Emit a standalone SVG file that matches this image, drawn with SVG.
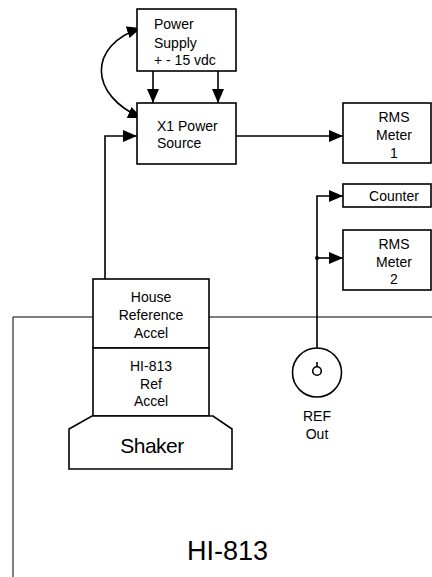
<svg xmlns="http://www.w3.org/2000/svg" width="432" height="577" viewBox="0 0 432 577">
<defs>
<marker id="arr" markerUnits="userSpaceOnUse" markerWidth="14" markerHeight="12" refX="14" refY="6" orient="auto-start-reverse">
<path d="M0,0 L14,6 L0,12 z" fill="#000"/>
</marker>
<style>
.box{fill:#fff;stroke:#000;stroke-width:1.6}
.ln{fill:none;stroke:#000;stroke-width:1.6}
.frame{fill:none;stroke:#000;stroke-width:1}
text{font-family:"Liberation Sans",Arial,sans-serif;font-size:14px;fill:#000}
.c{text-anchor:middle}
</style>
</defs>
<rect width="432" height="577" fill="#fff"/>
<g id="frame">
<path class="frame" d="M13,577 V317 H93 M209,317 H432"/>
<text class="c" x="227.5" y="560" style="font-size:27px">HI-813</text>
</g>
<g id="connectors">
<path class="ln" d="M153,71 V103" marker-end="url(#arr)"/>
<path class="ln" d="M218,71 V103" marker-end="url(#arr)"/>
<path class="ln" d="M141,28 C88,45 88,95 142,118" marker-start="url(#arr)" marker-end="url(#arr)"/>
<path class="ln" d="M105,279 V136 H137" marker-end="url(#arr)"/>
<path class="ln" d="M236,136 H343" marker-end="url(#arr)"/>
<path class="ln" d="M317,348 V196 H343" marker-end="url(#arr)"/>
<path class="ln" d="M317,258 H343" marker-end="url(#arr)"/>
<circle cx="317" cy="258" r="2" fill="#000"/>
</g>
<g id="power-supply">
<rect class="box" x="137" y="9" width="99" height="62"/>
<text x="154" y="29">Power</text>
<text x="154" y="47.5">Supply</text>
<text x="154" y="65">+ - 15 vdc</text>
</g>
<g id="x1-power-source">
<rect class="box" x="137" y="103" width="99" height="61"/>
<text x="157" y="131">X1 Power</text>
<text x="157" y="148">Source</text>
</g>
<g id="rms-meter-1">
<rect class="box" x="343" y="103" width="88" height="60"/>
<text class="c" x="394" y="122">RMS</text>
<text class="c" x="394" y="140">Meter</text>
<text class="c" x="394" y="158">1</text>
</g>
<g id="counter">
<rect class="box" x="343" y="184" width="88" height="23"/>
<text class="c" x="394" y="201">Counter</text>
</g>
<g id="rms-meter-2">
<rect class="box" x="343" y="230" width="88" height="60"/>
<text class="c" x="394" y="248.5">RMS</text>
<text class="c" x="394" y="267">Meter</text>
<text class="c" x="394" y="284">2</text>
</g>
<g id="house-reference-accel">
<rect class="box" x="93" y="279" width="116" height="69"/>
<text class="c" x="151" y="302">House</text>
<text class="c" x="151" y="319.5">Reference</text>
<text class="c" x="151" y="337.5">Accel</text>
</g>
<g id="hi813-ref-accel">
<rect class="box" x="93" y="348" width="116" height="68"/>
<text class="c" x="151" y="371">HI-813</text>
<text class="c" x="151" y="388.5">Ref</text>
<text class="c" x="151" y="406">Accel</text>
</g>
<g id="shaker">
<path class="box" d="M92,416 H213 L232,429 V469 H69 V429 Z"/>
<text class="c" x="152" y="453" style="font-size:21px;letter-spacing:-0.5px">Shaker</text>
</g>
<g id="ref-out">
<circle class="box" cx="317" cy="372.5" r="24.5"/>
<circle cx="317" cy="371" r="4.3" fill="none" stroke="#000" stroke-width="1.6"/>
<path class="ln" d="M317,362 V366.7"/>
<text class="c" x="317" y="421">REF</text>
<text class="c" x="317" y="438.5">Out</text>
</g>
</svg>
